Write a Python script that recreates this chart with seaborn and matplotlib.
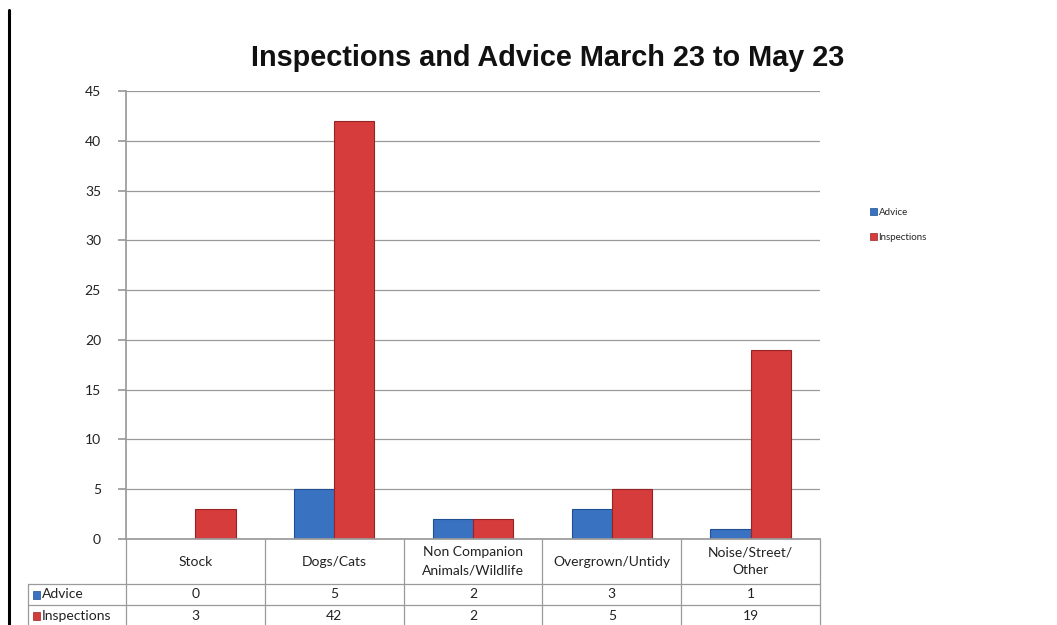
import matplotlib
matplotlib.use("Agg")
import matplotlib.pyplot as plt
import seaborn as sns
import pandas as pd
from matplotlib.lines import Line2D
from matplotlib.patches import Rectangle

categories = ["Stock", "Dogs/Cats", "Non Companion\nAnimals/Wildlife", "Overgrown/Untidy", "Noise/Street/\nOther"]
advice = [0, 5, 2, 3, 1]
inspections = [3, 42, 2, 5, 19]
series = ["Advice", "Inspections"]
colors = {"Advice": "#3a72c2", "Inspections": "#d63c3c"}
edges = {"Advice": "#1f4f8f", "Inspections": "#962424"}

df = pd.DataFrame({
    "cat": categories * 2,
    "series": ["Advice"] * 5 + ["Inspections"] * 5,
    "value": advice + inspections,
})

sns.set_theme(style="white")
plt.rcParams['font.family'] = ['Lato', 'DejaVu Sans']

W, H = 1057, 625
fig = plt.figure(figsize=(W / 100, H / 100), dpi=100)
x0, x1, ytop, ybot = 126, 820, 91, 539
ax = fig.add_axes([x0 / W, 1 - ybot / H, (x1 - x0) / W, (ybot - ytop) / H])

sns.barplot(data=df, x="cat", y="value", hue="series", palette=colors,
            width=0.58, ax=ax, legend=False, saturation=1)
for i, cont in enumerate(ax.containers):
    for p in cont:
        p.set_edgecolor(edges[series[i]])
        p.set_linewidth(0.8)

ax.set_ylim(0, 45)
ax.set_yticks(range(0, 46, 5))
ax.set_xlim(-0.5, 4.5)
ax.yaxis.grid(True, color="#9a9a9a", linewidth=0.9)
ax.set_axisbelow(True)
ax.set_xticks([])
ax.set_xlabel("")
ax.set_ylabel("")
for s in ["top", "right"]:
    ax.spines[s].set_visible(False)
ax.spines["left"].set_color("#9a9a9a")
ax.spines["bottom"].set_color("#9a9a9a")
ax.tick_params(axis="y", which="both", left=True, length=6, color="#9a9a9a",
               labelsize=10, labelcolor="#222222", pad=12)

fig.text(548 / W, 1 - 58 / H, "Inspections and Advice March 23 to May 23",
         ha="center", va="center", fontsize=20.8, fontweight="bold", color="#111111",
         family=["Liberation Sans", "DejaVu Sans"])

# legend
handles = [Rectangle((0, 0), 1, 1, facecolor=colors[s], edgecolor=edges[s], linewidth=0.5) for s in series]
fig.legend(handles, series, loc="upper left", bbox_to_anchor=(861 / W, 1 - 199 / H),
           frameon=False, fontsize=7, handlelength=0.7, handleheight=0.7,
           handletextpad=0.2, labelspacing=1.7)

# data table below the chart
gc = "#9a9a9a"
def fx(px):
    return px / W
def fy(py):
    return 1 - py / H

colx = [x0 + (x1 - x0) * k / 5 for k in range(6)]
rows_y = [539, 584, 605, 626]
for cx in colx:
    fig.add_artist(Line2D([fx(cx), fx(cx)], [fy(539), fy(626)], color=gc, linewidth=0.9))
fig.add_artist(Line2D([fx(28), fx(28)], [fy(584), fy(626)], color=gc, linewidth=0.9))
for ry in [584, 605]:
    fig.add_artist(Line2D([fx(28), fx(x1)], [fy(ry), fy(ry)], color=gc, linewidth=0.9))

for k, c in enumerate(categories):
    cxm = (colx[k] + colx[k + 1]) / 2
    fig.text(fx(cxm), fy(561.5), c, ha="center", va="center", fontsize=10,
             color="#222222", linespacing=1.6)
for r, (name, vals) in enumerate(zip(series, [advice, inspections])):
    ym = (rows_y[r + 1] + rows_y[r + 2]) / 2
    fig.add_artist(Rectangle((fx(33), fy(ym + 4)), 7 / W, 8 / H, facecolor=colors[name],
                             edgecolor=edges[name], linewidth=0.5, transform=fig.transFigure))
    fig.text(fx(42), fy(ym), name, ha="left", va="center", fontsize=10, color="#222222")
    for k, v in enumerate(vals):
        cxm = (colx[k] + colx[k + 1]) / 2
        fig.text(fx(cxm), fy(ym), str(v), ha="center", va="center", fontsize=10, color="#222222")

# left border line
fig.add_artist(Line2D([fx(9), fx(9)], [fy(10), fy(626)], color="black", linewidth=2.2))

fig.savefig("out.png", dpi=100, facecolor="white")
